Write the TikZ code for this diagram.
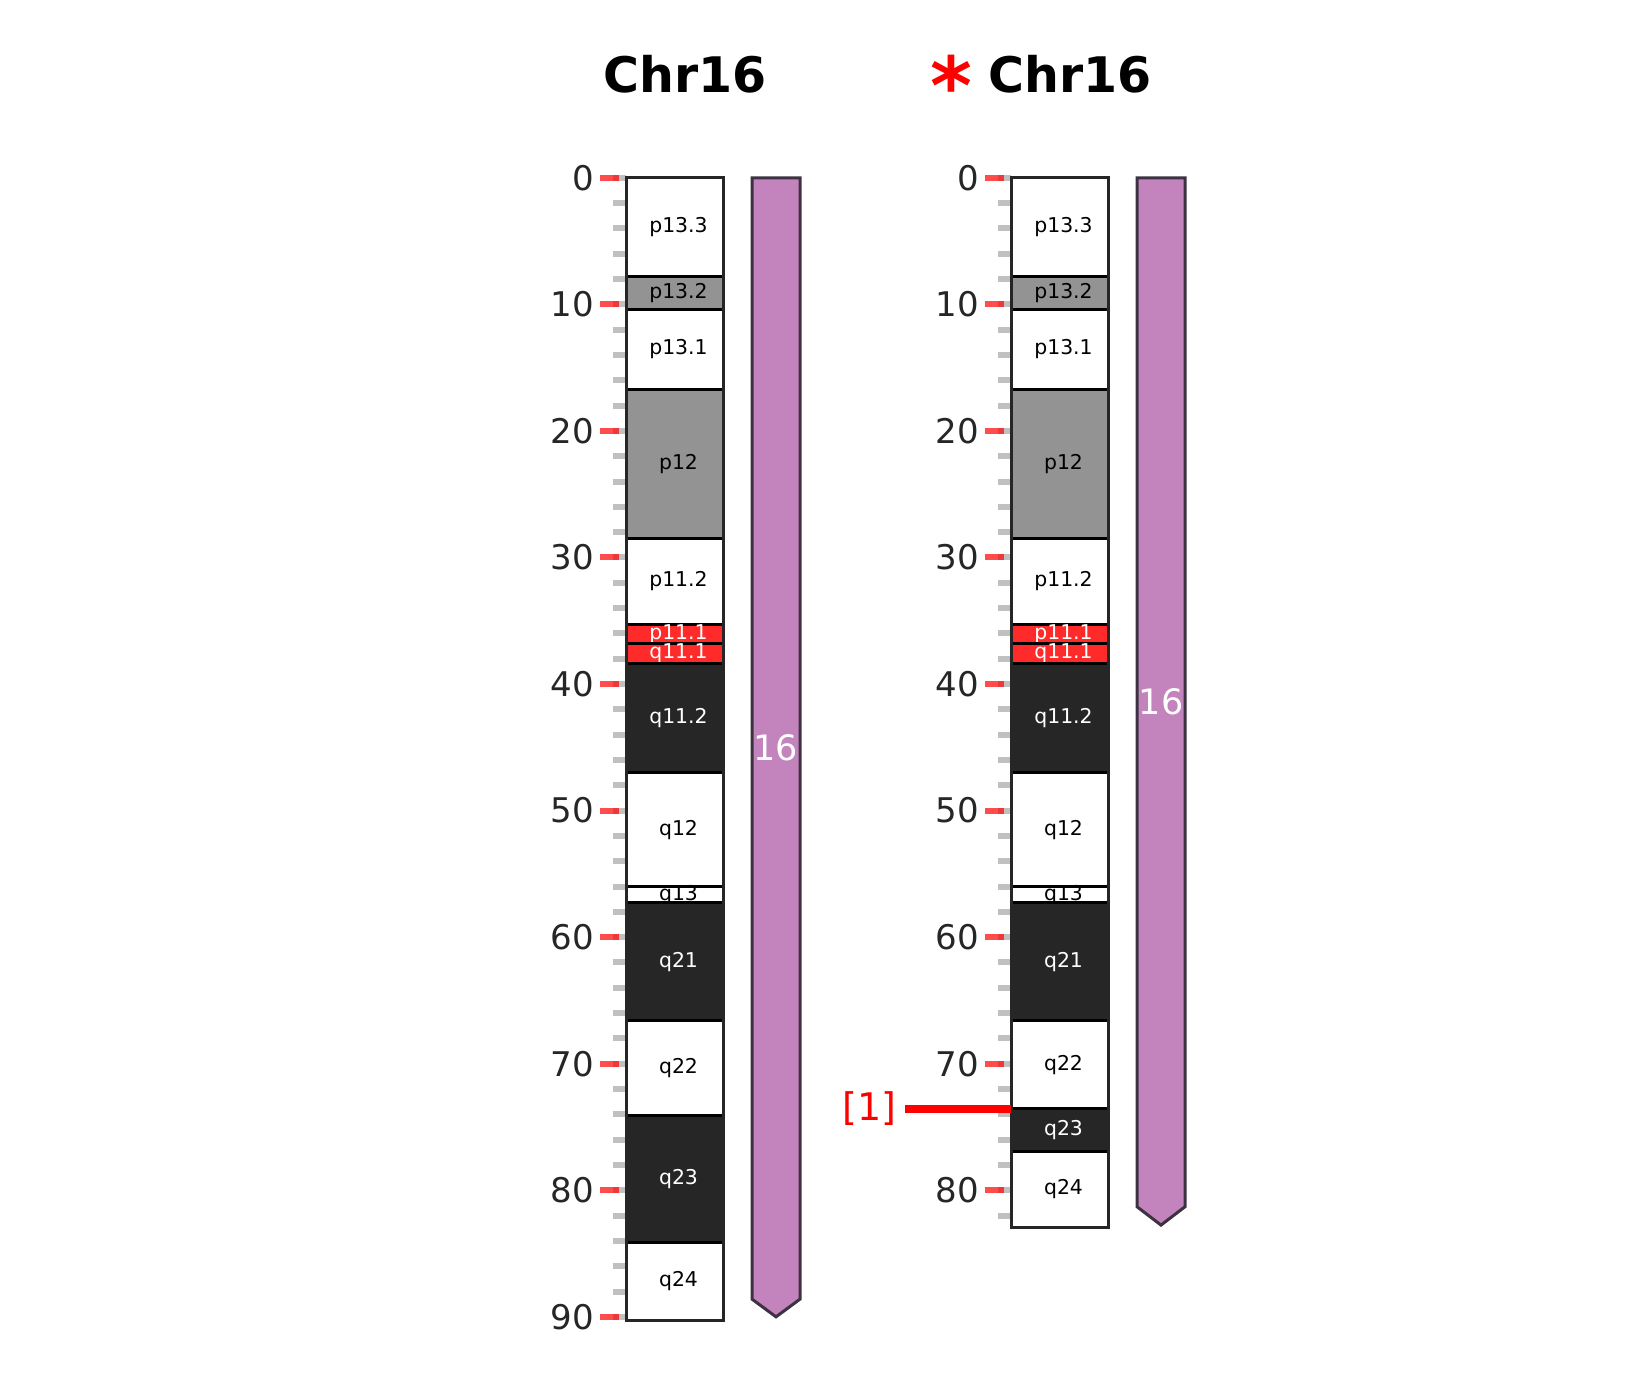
\documentclass[tikz,border=0pt]{standalone}
\usepackage{fontspec}
\setmainfont{DejaVu Sans}
\usepackage{xcolor}
\usepackage{tikz}
\usetikzlibrary{positioning}

\definecolor{bandgray}{HTML}{939393}
\definecolor{banddark}{HTML}{262626}
\definecolor{bandred}{HTML}{FF2A2A}
\definecolor{barpurple}{HTML}{C383BC}
\definecolor{baredge}{HTML}{3D3242}
\definecolor{ticktext}{HTML}{262626}
\definecolor{tickgray}{HTML}{C0C0C0}

\tikzset{
  band/.style={draw=black, line width=1.5pt},
  bandlabel/.style={font=\fontsize{10.2}{12}\selectfont, inner sep=0pt},
  chrframe/.style={draw=banddark, line width=1.5pt},
  chrbar/.style={draw=baredge, line width=1.5pt, fill=barpurple},
  barlabel/.style={font=\fontsize{17.5}{20}\selectfont, text=white, inner sep=0pt},
  minortick/.style={draw=tickgray, line width=3pt},
  majortick/.style={draw=red, opacity=0.7, line width=3pt},
  ticklabel/.style={font=\fontsize{17}{20}\selectfont, text=ticktext, inner sep=0pt, anchor=east},
  chrtitle/.style={font=\bfseries\fontsize{24.5}{30}\selectfont, inner sep=0pt, anchor=base},
  markline/.style={draw=red, line width=4pt},
  marklabel/.style={font=\fontsize{19}{22}\selectfont, text=red, inner sep=4pt, anchor=east}
}

\begin{document}
\begin{tikzpicture}[x=0.5pt, y=-0.5pt]
\useasboundingbox (0,0) rectangle (1640,1398);

    % titles
    \node[chrtitle] (title1) at (685,92) {Chr16};
    \node[chrtitle] (title2) at (1070,92) {Chr16};
    \node[font=\bfseries\fontsize{40}{40}\selectfont, text=red, inner sep=0pt, anchor=base east] (star2) at (973,114) {*};

    \begin{scope}[shift={(0,177.8)}, y=-6.328pt]

        % normal chromosome 16
        \foreach \m in {0,2,...,90}
            \draw[minortick] (613,\m) -- (626,\m);
        \foreach \m in {0,10,...,90} {
            \draw[majortick] (600,\m) -- (619,\m);
            \node[ticklabel] (la\m) at (594.5,\m) {\m};
        }
        \foreach \t/\b/\lab/\col/\txt [count=\i] in {
            0/7.8/p13.3/white/black, 7.8/10.4/p13.2/bandgray/black,
            10.4/16.7/p13.1/white/black, 16.7/28.5/p12/bandgray/black,
            28.5/35.3/p11.2/white/black, 35.3/36.8/p11.1/bandred/white,
            36.8/38.4/q11.1/bandred/white, 38.4/47.0/q11.2/banddark/white,
            47.0/56.0/q12/white/black, 56.0/57.3/q13/white/black,
            57.3/66.6/q21/banddark/white, 66.6/74.1/q22/white/black,
            74.1/84.1/q23/banddark/white, 84.1/90.3/q24/white/black} {
            \draw[band, fill=\col] (626,\t) rectangle (723,\b);
            \node[bandlabel, text=\txt] (a\i) at (678.5,{(\t+\b)/2}) {\lab};
        }
        \draw[chrframe] (626,0) rectangle (723,90.3);
        \draw[chrbar] (752,0) -- (800,0) -- (800,88.6) -- (776,90.0) -- (752,88.6) -- cycle;
        \node[barlabel] (bar1) at (776,45) {16};

        % derivative chromosome 16
        \foreach \m in {0,2,...,82}
            \draw[minortick] (998,\m) -- (1011,\m);
        \foreach \m in {0,10,...,80} {
            \draw[majortick] (985,\m) -- (1004,\m);
            \node[ticklabel] (lb\m) at (979.5,\m) {\m};
        }
        \foreach \t/\b/\lab/\col/\txt [count=\i] in {
            0/7.8/p13.3/white/black, 7.8/10.4/p13.2/bandgray/black,
            10.4/16.7/p13.1/white/black, 16.7/28.5/p12/bandgray/black,
            28.5/35.3/p11.2/white/black, 35.3/36.8/p11.1/bandred/white,
            36.8/38.4/q11.1/bandred/white, 38.4/47.0/q11.2/banddark/white,
            47.0/56.0/q12/white/black, 56.0/57.3/q13/white/black,
            57.3/66.6/q21/banddark/white, 66.6/73.55/q22/white/black,
            73.55/76.9/q23/banddark/white, 76.9/82.95/q24/white/black} {
            \draw[band, fill=\col] (1011,\t) rectangle (1108,\b);
            \node[bandlabel, text=\txt] (b\i) at (1063.5,{(\t+\b)/2}) {\lab};
        }
        \draw[chrframe] (1011,0) rectangle (1108,82.95);
        \draw[chrbar] (1137,0) -- (1185,0) -- (1185,81.3) -- (1161,82.75) -- (1137,81.3) -- cycle;
        \node[barlabel] (bar2) at (1161,41.4) {16};

        % breakpoint
        \node[marklabel] (mark1) at (905,73.55) {[1]};
        \coordinate (brk) at (1011,73.55);
        \draw[markline] (mark1.east) -- (brk);
    \end{scope}
\end{tikzpicture}
\end{document}
